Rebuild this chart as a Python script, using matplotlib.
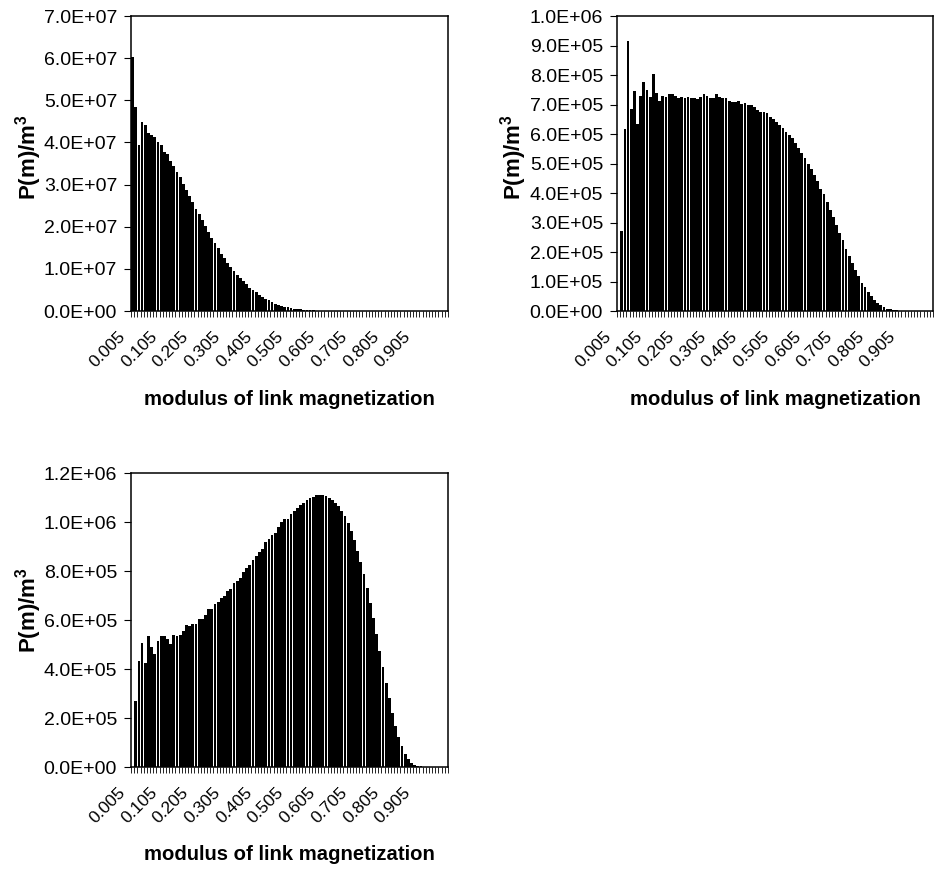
import matplotlib
matplotlib.use("Agg")
import matplotlib.pyplot as plt
import matplotlib.transforms as mtransforms
import numpy as np

plt.rcParams['font.family'] = ['Liberation Sans', 'DejaVu Sans']
plt.rcParams['mathtext.fontset'] = 'custom'
plt.rcParams['mathtext.rm'] = 'Liberation Sans'
plt.rcParams['mathtext.bf'] = 'Liberation Sans:bold'

# category labels (bin centres of |m|)
categories = [f"{0.005 + 0.01 * i:.3f}" for i in range(100)]
label_every = 10

# Panel 1 values (units of 1e7)
p1_vals = [6.02, 4.85, 3.95, 4.48, 4.41, 4.23, 4.18, 4.14, 4.01, 3.93,
           3.78, 3.72, 3.57, 3.45, 3.30, 3.17, 3.02, 2.88, 2.72, 2.58,
           2.43, 2.30, 2.15, 2.01, 1.88, 1.74, 1.62, 1.49, 1.36, 1.25,
           1.14, 1.05, 0.95, 0.86, 0.78, 0.71, 0.63, 0.55, 0.49, 0.44,
           0.38, 0.33, 0.29, 0.25, 0.21, 0.17, 0.15, 0.13, 0.10, 0.087,
           0.07, 0.055, 0.045, 0.036, 0.028, 0.022, 0.017, 0.013, 0.010, 0.008,
           0.006, 0.004, 0.003, 0.002, 0.0015, 0.001] + [0.0] * 34
p1_scale = 1e7

# Panel 2 values (units of 1e5)
p2_vals = [0.0, 2.70, 6.17, 9.16, 6.85, 7.47, 6.34, 7.28, 7.75, 7.49,
           7.27, 8.05, 7.39, 7.13, 7.29, 7.25, 7.34, 7.34, 7.29, 7.22,
           7.26, 7.23, 7.27, 7.23, 7.23, 7.19, 7.25, 7.34, 7.29, 7.23,
           7.21, 7.35, 7.27, 7.21, 7.23, 7.13, 7.10, 7.10, 7.12, 7.01,
           7.05, 7.00, 6.99, 6.91, 6.83, 6.75, 6.73, 6.72, 6.59, 6.52,
           6.41, 6.30, 6.19, 6.08, 5.96, 5.87, 5.70, 5.54, 5.36, 5.19,
           4.99, 4.82, 4.61, 4.39, 4.14, 3.95, 3.69, 3.44, 3.17, 2.92,
           2.65, 2.39, 2.11, 1.87, 1.63, 1.40, 1.19, 0.96, 0.80, 0.64,
           0.50, 0.38, 0.27, 0.19, 0.12, 0.08, 0.056, 0.034, 0.02, 0.012,
           0.006, 0.003, 0.0015, 0.0008, 0.0, 0.0, 0.0, 0.0, 0.0, 0.0]
p2_scale = 1e5

# Panel 3 values (units of 1e5)
p3_vals = [0.0, 2.70, 4.33, 5.06, 4.26, 5.33, 4.88, 4.61, 5.14, 5.36,
           5.36, 5.24, 5.03, 5.37, 5.35, 5.37, 5.54, 5.81, 5.75, 5.83,
           5.83, 6.05, 6.05, 6.19, 6.46, 6.45, 6.65, 6.74, 6.88, 7.00,
           7.18, 7.26, 7.49, 7.60, 7.73, 7.94, 8.13, 8.26, 8.44, 8.60,
           8.78, 8.91, 9.17, 9.32, 9.46, 9.57, 9.80, 9.99, 10.11, 10.14,
           10.34, 10.45, 10.56, 10.68, 10.77, 10.88, 10.96, 11.03, 11.09, 11.11,
           11.11, 11.06, 10.99, 10.91, 10.79, 10.64, 10.45, 10.23, 9.96, 9.62,
           9.25, 8.82, 8.37, 7.86, 7.31, 6.70, 6.07, 5.41, 4.75, 4.07,
           3.42, 2.80, 2.20, 1.66, 1.21, 0.84, 0.54, 0.33, 0.18, 0.095,
           0.05, 0.025, 0.012, 0.005, 0.002, 0.0, 0.0, 0.0, 0.0, 0.0]
p3_scale = 1e5

# y-axis settings per panel: (max, step)
p1_yaxis = (7e7, 1e7)
p2_yaxis = (1e6, 1e5)
p3_yaxis = (1.2e6, 2e5)

xlabel_text = "modulus of link magnetization"
ylabel_text = r"P(m)/m$^{\mathbf{3}}$"

W, H = 935, 871
fig = plt.figure(figsize=(W / 100, H / 100), dpi=100)


def make_axes(left, top, right, bottom):
    return fig.add_axes([left / W, 1 - bottom / H, (right - left) / W, (bottom - top) / H])


def draw(ax, vals, scale, yaxis, ylab_x, ylab_y):
    x = np.arange(len(vals))
    y = np.array(vals) * scale
    ax.bar(x, y, width=0.88, color='black', linewidth=0, antialiased=True)
    ax.set_xlim(-0.5, len(vals) - 0.5)
    ymax, ystep = yaxis
    ax.set_ylim(0, ymax)
    yt = np.arange(0, ymax + ystep / 2, ystep)
    ax.set_yticks(yt)
    ax.set_yticklabels([f"{v:.1E}" for v in yt], fontsize=14)
    ax.set_xticks(x[::label_every])
    ax.set_xticklabels(categories[::label_every], rotation=45, ha='right',
                       rotation_mode='anchor', fontsize=12.5)
    ax.set_xticks(np.arange(len(vals) + 1) - 0.5, minor=True)
    ax.tick_params(axis='x', which='major', length=0, pad=13)
    ax.tick_params(axis='x', which='minor', length=4, width=0.6, direction='out')
    ax.tick_params(axis='y', which='major', length=5, width=0.8, direction='out', pad=5)
    shift = mtransforms.ScaledTranslation(-0.15, 0, fig.dpi_scale_trans)
    for lab in ax.get_xticklabels():
        lab.set_transform(lab.get_transform() + shift)
    for s in ax.spines.values():
        s.set_linewidth(1.1)
        s.set_color('black')
    ax.set_xlabel(xlabel_text, fontsize=14.6, fontweight='bold')
    ax.xaxis.set_label_coords(0.5, -0.267)
    ax.set_ylabel(ylabel_text, fontsize=16, fontweight='bold')
    ax.yaxis.set_label_coords(ylab_x, ylab_y)


ax1 = make_axes(131, 16, 448, 311)
draw(ax1, p1_vals, p1_scale, p1_yaxis, -0.275, 0.52)
ax2 = make_axes(617, 16, 933, 311)
draw(ax2, p2_vals, p2_scale, p2_yaxis, -0.278, 0.52)
ax3 = make_axes(131, 473, 448, 767)
draw(ax3, p3_vals, p3_scale, p3_yaxis, -0.275, 0.534)

fig.savefig("out.png", dpi=100, facecolor='white')
